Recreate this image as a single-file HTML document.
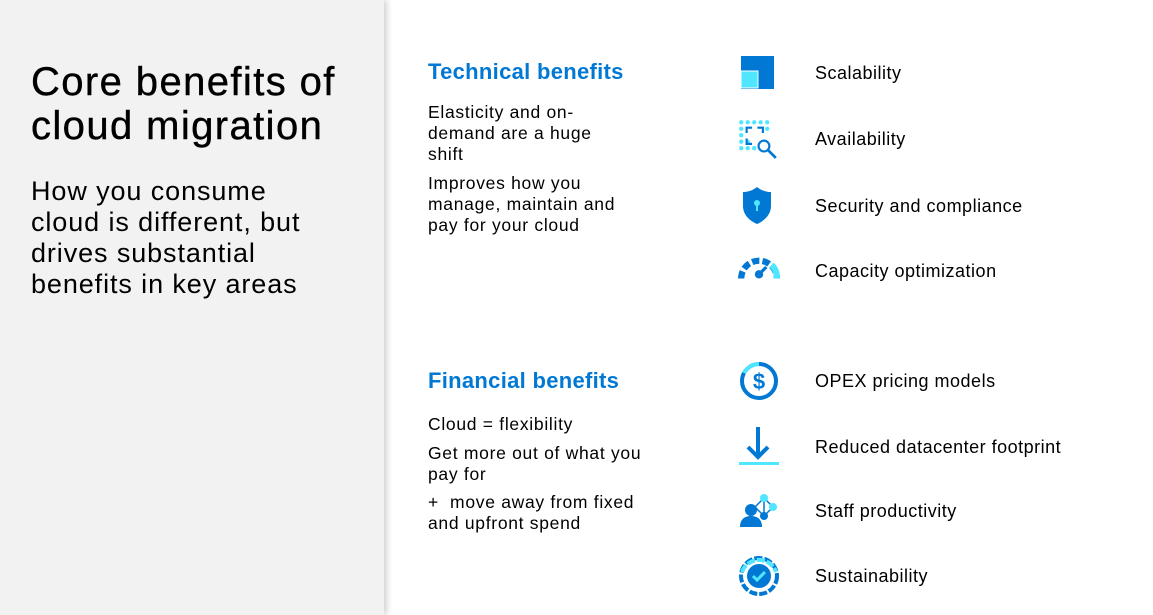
<!DOCTYPE html>
<html><head><meta charset="utf-8"><style>
body{margin:0;width:1153px;height:615px;background:#fff;position:relative;overflow:hidden;font-family:"Liberation Sans",sans-serif;color:#000}
.left{position:absolute;left:0;top:0;width:384px;height:615px;background:#f2f2f2;box-shadow:3px 0 6px rgba(0,0,0,.18)}
.t{position:absolute;white-space:nowrap}
h1{position:absolute;left:31px;top:60px;margin:0;font-weight:normal;font-size:40px;line-height:44px;letter-spacing:1.4px;-webkit-text-stroke:0.4px #000}
.sub{position:absolute;left:31px;top:176px;font-size:27px;line-height:31px;letter-spacing:0.9px}
.h{font-size:22px;color:#0078d4;font-weight:bold;letter-spacing:0.3px}
.b{font-size:17.5px;line-height:21px;letter-spacing:0.7px}
.l{font-size:18px;letter-spacing:0.5px}
svg{position:absolute}
</style></head><body>
<div class="left"></div>
<h1>Core benefits of<br>cloud migration</h1>
<div class="sub">How you consume<br>cloud is different, but<br>drives substantial<br>benefits in key areas</div>

<div class="t h" style="left:428px;top:59px">Technical benefits</div>
<div class="t b" style="left:428px;top:102px">Elasticity and on-<br>demand are a huge<br>shift</div>
<div class="t b" style="left:428px;top:173px">Improves how you<br>manage, maintain and<br>pay for your cloud</div>

<div class="t h" style="left:428px;top:368px">Financial benefits</div>
<div class="t b" style="left:428px;top:414px">Cloud = flexibility</div>
<div class="t b" style="left:428px;top:443px">Get more out of what you<br>pay for</div>
<div class="t b" style="left:428px;top:492px">+ &nbsp;move away from fixed<br>and upfront spend</div>

<div class="t l" style="left:815px;top:63px">Scalability</div>
<div class="t l" style="left:815px;top:129px">Availability</div>
<div class="t l" style="left:815px;top:196px">Security and compliance</div>
<div class="t l" style="left:815px;top:261px">Capacity optimization</div>
<div class="t l" style="left:815px;top:371px">OPEX pricing models</div>
<div class="t l" style="left:815px;top:437px">Reduced datacenter footprint</div>
<div class="t l" style="left:815px;top:501px">Staff productivity</div>
<div class="t l" style="left:815px;top:566px">Sustainability</div>

<!-- scalability -->
<svg style="left:740px;top:55px" width="35" height="35"><rect x="1" y="1" width="33" height="33" fill="#0078d4"/><rect x="1" y="16" width="17" height="17" fill="#50e6ff" stroke="#fff" stroke-width="1"/></svg>
<!-- availability -->
<svg style="left:738px;top:119px" width="40" height="40" viewBox="0 0 37 37">
<g fill="#50e6ff"><circle cx="3" cy="3" r="2"/><circle cx="9" cy="3" r="2"/><circle cx="15" cy="3" r="2"/><circle cx="21" cy="3" r="2"/><circle cx="27" cy="3" r="2"/><circle cx="3" cy="9" r="2"/><circle cx="27" cy="9" r="2"/><circle cx="3" cy="15" r="2"/><circle cx="3" cy="21" r="2"/><circle cx="9" cy="21" r="2"/><circle cx="3" cy="27" r="2"/><circle cx="9" cy="27" r="2"/><circle cx="15" cy="27" r="2"/></g>
<path d="M8 13V8h5M18 8h5v5M8 18v5h5" stroke="#0078d4" stroke-width="2" fill="none"/>
<circle cx="24" cy="25" r="5" stroke="#0078d4" stroke-width="2" fill="none"/><path d="M28 29l7 7" stroke="#0078d4" stroke-width="2.5"/></svg>
<!-- shield -->
<svg style="left:741px;top:186px" width="32" height="40"><path d="M16 1C11 5 6 6 2 6v14c0 9 7 15 14 18 7-3 14-9 14-18V6c-4 0-9-1-14-5z" fill="#0078d4"/><circle cx="16" cy="17" r="3" fill="#50e6ff"/><rect x="15" y="17" width="2" height="8" fill="#50e6ff"/></svg>
<!-- gauge -->
<svg style="left:737px;top:252px" width="44" height="30" viewBox="0 0 42 28"><path d="M4 25A17 17 0 0 1 38 25" stroke="#0078d4" stroke-width="6" fill="none" stroke-dasharray="7 3"/><path d="M33 12A17 17 0 0 1 38 25" stroke="#50e6ff" stroke-width="6" fill="none"/><circle cx="21" cy="21" r="4" fill="#0078d4"/><path d="M21 21l7-7" stroke="#0078d4" stroke-width="3"/></svg>
<!-- dollar -->
<svg style="left:739px;top:361px" width="40" height="40"><circle cx="20" cy="20" r="17" stroke="#0078d4" stroke-width="4" fill="none"/><path d="M20 3A17 17 0 0 0 5 12" stroke="#50e6ff" stroke-width="4" fill="none"/><text x="20" y="28" text-anchor="middle" font-size="22" font-weight="bold" fill="#0078d4" font-family="Liberation Sans">$</text></svg>
<!-- arrow -->
<svg style="left:738px;top:425px" width="42" height="42"><path d="M20 2v30M10 22l10 10 10-10" stroke="#0078d4" stroke-width="4" fill="none"/><rect x="1" y="37" width="40" height="3" fill="#50e6ff"/></svg>
<!-- staff -->
<svg style="left:739px;top:493px" width="42" height="36"><path d="M25 5L16 14l9 9 9-9z" stroke="#0078d4" stroke-width="1.5" fill="none"/><path d="M25 5v18" stroke="#0078d4" stroke-width="1.5"/><circle cx="25" cy="5" r="4" fill="#50e6ff"/><circle cx="34" cy="14" r="4" fill="#50e6ff"/><circle cx="25" cy="23" r="4" fill="#0078d4"/><circle cx="12" cy="17" r="6" fill="#0078d4"/><path d="M1 34c0-8 5-11 11-11s11 3 11 11z" fill="#0078d4"/></svg>
<!-- sustainability -->
<svg style="left:738px;top:555px" width="42" height="42"><circle cx="21" cy="21" r="18" stroke="#0078d4" stroke-width="4" fill="none" stroke-dasharray="8 2"/><path d="M4 17A18 18 0 0 1 38 17" stroke="#50e6ff" stroke-width="4" fill="none" stroke-dasharray="8 2"/><circle cx="21" cy="21" r="12" fill="#0078d4"/><path d="M15 21l4 4 8-8" stroke="#50e6ff" stroke-width="3" fill="none"/></svg>
</body></html>
